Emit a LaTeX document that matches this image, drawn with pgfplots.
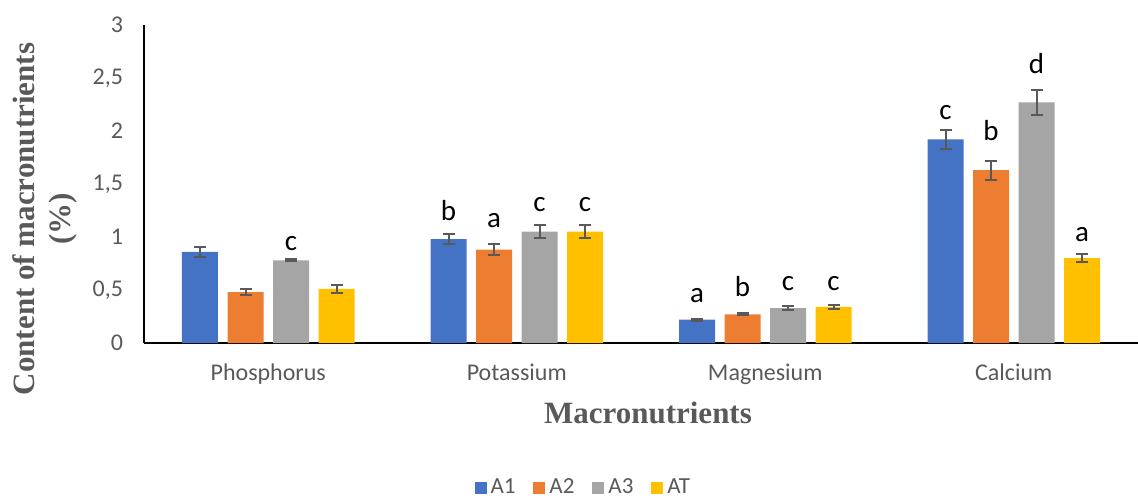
\documentclass[border=0pt]{standalone}
\usepackage{pgfplots}
\pgfplotsset{compat=1.18}
\usepackage{pgfplotstable}
\usepackage{fontspec}
\setmainfont{Carlito}
\newfontfamily\titlefont{Liberation Serif}
\definecolor{cA}{HTML}{4472C4}
\definecolor{cB}{HTML}{ED7D31}
\definecolor{cC}{HTML}{A5A5A5}
\definecolor{cD}{HTML}{FFC000}
\definecolor{tgray}{HTML}{595959}

% x = category index, y = value, err = error, lab = letter, ly = letter baseline
\pgfplotstableread{
x y err lab ly
0 0.86 0.045 {} 0.9
1 0.98 0.05 b 1.160
2 0.22 0.01 a 0.380
3 1.92 0.09 c 2.113
}\tA
\pgfplotstableread{
x y err lab ly
0 0.48 0.03 {} 0.6
1 0.88 0.05 a 1.085
2 0.27 0.01 b 0.437
3 1.63 0.09 b 1.906
}\tB
\pgfplotstableread{
x y err lab ly
0 0.78 0.01 c 0.877
1 1.05 0.06 c 1.236
2 0.33 0.02 c 0.500
3 2.27 0.12 d 2.547
}\tC
\pgfplotstableread{
x y err lab ly
0 0.51 0.04 {} 0.6
1 1.05 0.06 c 1.236
2 0.34 0.02 c 0.500
3 0.80 0.04 a 0.962
}\tD

\begin{document}
\begin{tikzpicture}
\begin{axis}[
  scale only axis, width=497pt, height=159pt,
  ymin=0, ymax=3, xmin=-0.5, xmax=3.5,
  ybar=4.75pt, bar width=18pt,
  axis x line*=bottom, axis y line*=left,
  axis line style={line width=1.25pt, black},
  xtick={0,1,2,3}, xticklabels={Phosphorus,Potassium,Magnesium,Calcium},
  ytick={0,0.5,1,1.5,2,2.5,3}, yticklabels={0,{0,5},1,{1,5},2,{2,5},3},
  major tick length=0pt,
  tick label style={font=\fontsize{12}{14}\selectfont, text=tgray},
  yticklabel style={xshift=-7pt},
  xticklabel style={yshift=-7pt},
  ylabel={Content of macronutrients\\(\%)},
  ylabel style={align=center, font=\titlefont\bfseries\fontsize{15.5}{18}\selectfont, text=tgray, at={(axis description cs:-0.1,0.39)}, anchor=center},
  xlabel={Macronutrients},
  xlabel style={font=\titlefont\bfseries\fontsize{15.5}{18}\selectfont, text=tgray, at={(axis description cs:0.507,-0.22)}, anchor=center},
  legend style={at={(axis description cs:0.443,-0.456)}, anchor=center, draw=none, legend columns=4, font=\fontsize{11.5}{13}\selectfont, text=tgray, /tikz/every even column/.append style={column sep=7pt}},
  legend image code/.code={\fill[#1] (0pt,-3pt) rectangle (6pt,3pt);},
  error bars/y dir=both, error bars/y explicit,
  error bars/error bar style={color=tgray, line width=1pt},
  error bars/error mark options={rotate=90, mark size=3pt, line width=1pt, color=tgray},
  point meta=explicit symbolic,
  visualization depends on={(\thisrow{ly}-\thisrow{y})*53 \as \lshift},
  nodes near coords,
  nodes near coords style={anchor=base, yshift=\lshift pt, font=\fontsize{14.5}{16}\selectfont, text=black, inner sep=0pt},
]
\addplot[fill=cA, draw=none] table[x=x, y=y, y error=err, meta=lab] {\tA};
\addplot[fill=cB, draw=none] table[x=x, y=y, y error=err, meta=lab] {\tB};
\addplot[fill=cC, draw=none] table[x=x, y=y, y error=err, meta=lab] {\tC};
\addplot[fill=cD, draw=none] table[x=x, y=y, y error=err, meta=lab] {\tD};
\legend{A1,A2,A3,AT}
\end{axis}
\pgfresetboundingbox
\path (-72pt,-77pt) rectangle (497pt,171.5pt);
\end{tikzpicture}
\end{document}
